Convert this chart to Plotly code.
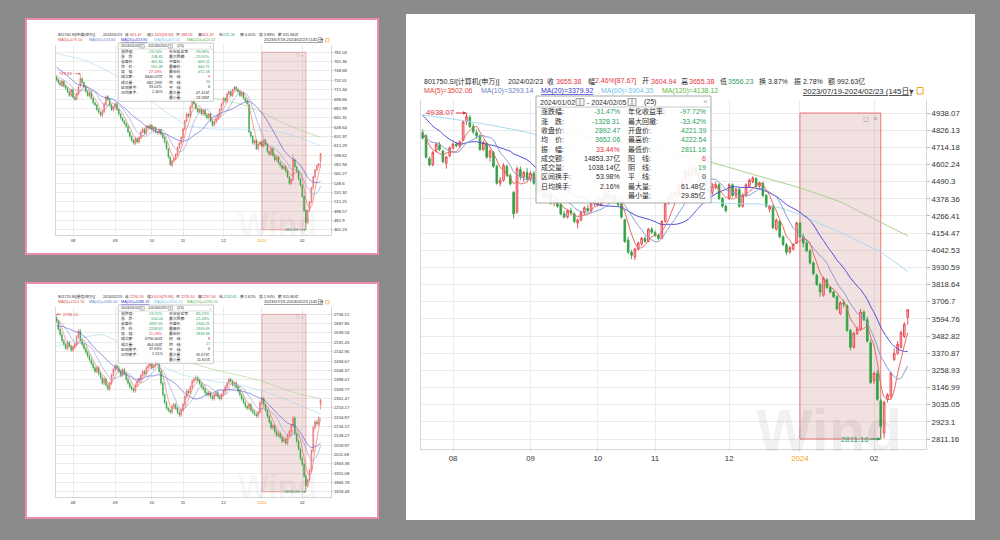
import plotly.graph_objects as go
import pandas as pd

W, H = 1000, 540
FONT = "Liberation Sans, Noto Sans CJK SC, sans-serif"
DARK = "#2b2b2b"
UP_LINE = "#e8414b"
UP_FILL = "#f7c3c6"
DN_COLOR = "#35a244"
TXT_RED = "#e5343f"
TXT_GREEN = "#2c9f63"
MA_COLORS = ["#e0695d", "#8797cf", "#4848d8", "#a9d9f0", "#a5d28c"]
MA_TEXT_COLORS = ["#e0483c", "#6c7fc4", "#3333cc", "#74c3ea", "#5cb845"]

month_tick_idx = [9, 32, 52, 69, 91, 112, 134]
month_tick_text = ["08", "09", "10", "11", "12", "2024", "02"]
range_start_idx, range_end_idx = 112, 136

# ------------------------------------------------------------------ main: 801750.SI
main_open = [
    4810, 4790, 4640, 4600, 4690, 4730, 4690, 4610, 4660, 4710,
    4735, 4725, 4760, 4880, 4910, 4850, 4810, 4790, 4700, 4740,
    4650, 4680, 4590, 4480, 4500, 4590, 4530, 4420, 4290, 4570,
    4520, 4550, 4510, 4545, 4480, 4420, 4460, 4390, 4410, 4350,
    4370, 4340, 4280, 4260, 4300, 4280, 4220, 4240, 4290, 4315,
    4300, 4350, 4380, 4340, 4380, 4420, 4390, 4400, 4360, 4345,
    4240, 4110, 4030, 4000, 4050, 4085, 4120, 4100, 4180, 4160,
    4140, 4120, 4230, 4350, 4380, 4420, 4400, 4470, 4500, 4560,
    4530, 4580, 4540, 4500, 4520, 4460, 4420, 4450, 4470, 4380,
    4330, 4380, 4470, 4400, 4440, 4330, 4400, 4460, 4490, 4510,
    4460, 4480, 4400, 4310, 4330, 4180, 4230, 4130, 4080, 4030,
    4050, 4090, 4221.39, 4130, 4090, 4040, 3960, 3880, 3820, 3750,
    3850, 3800, 3770, 3740, 3630, 3700, 3680, 3520, 3410, 3500,
    3530, 3640, 3590, 3440, 3190, 3240, 3060, 2850, 3070, 3090,
    3330, 3370, 3410, 3480, 3604.94]
main_high = [
    4830, 4800, 4655, 4690, 4745, 4750, 4700, 4660, 4720, 4745,
    4750, 4760, 4890, 4938.07, 4925, 4870, 4830, 4800, 4760, 4750,
    4700, 4690, 4600, 4520, 4610, 4600, 4545, 4430, 4590, 4590,
    4560, 4580, 4560, 4560, 4490, 4470, 4470, 4420, 4420, 4380,
    4380, 4350, 4300, 4310, 4320, 4290, 4250, 4300, 4330, 4340,
    4360, 4380, 4400, 4390, 4430, 4430, 4410, 4410, 4370, 4355,
    4250, 4130, 4045, 4060, 4100, 4130, 4135, 4190, 4195, 4170,
    4150, 4240, 4360, 4400, 4430, 4440, 4480, 4510, 4570, 4580,
    4590, 4590, 4550, 4530, 4530, 4470, 4480, 4490, 4480, 4390,
    4340, 4480, 4480, 4450, 4450, 4410, 4480, 4510, 4525, 4520,
    4490, 4490, 4410, 4340, 4340, 4250, 4240, 4140, 4090, 4070,
    4090, 4230, 4222.54, 4150, 4110, 4050, 3970, 3890, 3830, 3870,
    3860, 3810, 3780, 3750, 3710, 3720, 3690, 3530, 3510, 3545,
    3660, 3650, 3610, 3460, 3250, 3260, 3075, 3060, 3110, 3250,
    3400, 3450, 3520, 3575, 3655.38]
main_low = [
    4765, 4640, 4590, 4590, 4680, 4690, 4610, 4575, 4650, 4700,
    4715, 4710, 4755, 4860, 4840, 4800, 4770, 4690, 4690, 4640,
    4620, 4580, 4470, 4460, 4490, 4520, 4465, 4250, 4280, 4500,
    4490, 4500, 4490, 4470, 4410, 4410, 4380, 4370, 4340, 4330,
    4320, 4270, 4250, 4250, 4270, 4220, 4185, 4230, 4270, 4290,
    4290, 4330, 4330, 4330, 4370, 4380, 4370, 4350, 4330, 4250,
    4090, 4020, 3985, 3978, 4040, 4070, 4090, 4095, 4150, 4130,
    4110, 4115, 4225, 4340, 4370, 4390, 4395, 4460, 4490, 4520,
    4520, 4530, 4490, 4490, 4450, 4410, 4400, 4440, 4370, 4320,
    4290, 4370, 4390, 4390, 4320, 4320, 4390, 4450, 4480, 4450,
    4440, 4390, 4320, 4290, 4180, 4170, 4120, 4070, 4010, 4020,
    4040, 4085, 4120, 4060, 4030, 3950, 3880, 3810, 3740, 3740,
    3790, 3760, 3730, 3650, 3620, 3670, 3510, 3390, 3400, 3490,
    3520, 3580, 3440, 3170, 3170, 3060, 2811.16, 2815, 3050, 3070,
    3320, 3360, 3400, 3470, 3556.23]
main_close = [
    4775, 4650, 4600, 4680, 4735, 4700, 4620, 4650, 4710, 4735,
    4725, 4750, 4880, 4915, 4850, 4815, 4790, 4700, 4745, 4650,
    4690, 4590, 4480, 4500, 4595, 4530, 4475, 4280, 4575, 4520,
    4550, 4510, 4545, 4480, 4420, 4460, 4390, 4410, 4350, 4370,
    4330, 4280, 4260, 4300, 4285, 4230, 4240, 4290, 4320, 4300,
    4350, 4370, 4340, 4380, 4420, 4390, 4400, 4360, 4340, 4260,
    4100, 4030, 4010, 4050, 4090, 4120, 4100, 4180, 4160, 4140,
    4120, 4230, 4350, 4380, 4420, 4400, 4470, 4500, 4560, 4530,
    4580, 4540, 4500, 4520, 4460, 4420, 4460, 4470, 4380, 4330,
    4300, 4470, 4400, 4440, 4330, 4400, 4470, 4500, 4515, 4460,
    4480, 4400, 4330, 4330, 4190, 4240, 4130, 4080, 4030, 4060,
    4080, 4220.78, 4130, 4090, 4040, 3960, 3890, 3820, 3770, 3860,
    3800, 3770, 3740, 3660, 3700, 3690, 3520, 3410, 3500, 3530,
    3640, 3590, 3450, 3180, 3240, 3070, 2892.47, 3050, 3100, 3240,
    3370, 3430, 3505, 3560, 3655.38]
main_pre_close = [5120, 5080, 5150, 5060, 5010, 5040, 4990, 5030, 4980, 4970,
                  4900, 4830, 4780, 4760, 4770, 4790, 4820, 4830, 4784]
main_ma60_idx = [0, 10, 20, 33, 45, 55, 65, 75, 86, 95, 100, 106, 112, 118, 124, 130, 136, 140, 144]
main_ma60 = [4925, 4895, 4860, 4800, 4700, 4590, 4480, 4410, 4355, 4345, 4345, 4320, 4275,
             4215, 4160, 4095, 4030, 3970, 3904.35]
main_ma120_idx = [34, 45, 55, 65, 75, 86, 93, 100, 106, 112, 118, 124, 130, 136, 140, 144]
main_ma120 = [4850, 4800, 4760, 4720, 4670, 4615, 4570, 4525, 4488, 4450, 4405, 4358, 4292,
              4226, 4180, 4138.12]
main_yticks = ["4938.07", "4826.13", "4714.18", "4602.24", "4490.3", "4378.36", "4266.41",
               "4154.47", "4042.53", "3930.59", "3818.64", "3706.7", "3594.76", "3482.82",
               "3370.87", "3258.93", "3146.99", "3035.05", "2923.1", "2811.16"]
main_header = ["801750.SI[计算机(申万)]", "2024/02/23", "3655.38", "2.46%[87.67]", "3604.94",
               "3655.38", "3556.23", "3.87%", "2.78%", "992.63亿"]
main_ma_text = ["3502.06", "3293.14", "3379.92", "3904.35", "4138.12"]
main_tip_left = ["-31.47%", "-1328.31", "2892.47", "3652.06", "33.44%", "14853.37亿",
                 "1038.14亿", "53.98%", "2.16%"]
main_tip_right = ["-97.72%", "-33.42%", "4221.39", "4222.54", "2811.16", "6", "19", "0",
                  "61.48亿", "29.85亿"]

# ------------------------------------------------------------------ small chart 1 (top-left)
c1_open = [
    738, 733, 728, 722, 730, 722, 718, 712, 705, 715,
    702, 698, 708, 722, 735, 728, 720, 712, 704, 710,
    700, 692, 688, 680, 675, 669, 676, 690, 703, 698,
    688, 679, 684, 690, 680, 672, 665, 660, 655, 650,
    640, 632, 625, 619, 628, 622, 630, 640, 645, 638,
    650, 647, 652, 645, 648, 640, 638, 644, 636, 630,
    622, 610, 595, 580, 588, 592, 600, 612, 620, 630,
    645, 660, 672, 668, 685, 700, 690, 682, 676, 680,
    672, 678, 670, 665, 672, 660, 652, 658, 664, 670,
    680, 690, 700, 695, 708, 712, 705, 715, 720, 716,
    712, 705, 710, 700, 695, 688, 640, 632, 620, 625,
    610, 618, 622, 615, 625, 618, 605, 600, 610, 598,
    590, 595, 585, 580, 575, 578, 570, 560, 548, 555,
    590, 578, 570, 556, 545, 525, 500, 478, 500, 515,
    540, 560, 572, 580, 588.05]
c1_high = [
    741, 735, 730, 733, 732, 724, 720, 714, 717, 718,
    704, 711, 723, 743.84, 738, 730, 722, 714, 712, 713,
    702, 694, 690, 682, 677, 679, 693, 705, 706, 700,
    690, 687, 693, 693, 682, 674, 667, 662, 657, 652,
    642, 634, 627, 631, 630, 633, 643, 648, 647, 652,
    652, 655, 654, 650, 650, 642, 646, 646, 638, 632,
    624, 612, 597, 590, 594, 602, 614, 622, 632, 647,
    662, 674, 674, 687, 702, 702, 692, 684, 682, 682,
    680, 680, 672, 674, 674, 662, 660, 666, 672, 682,
    692, 702, 702, 710, 714, 714, 717, 722, 722, 718,
    714, 712, 712, 702, 697, 690, 642, 634, 627, 627,
    620, 624, 624, 627, 627, 620, 607, 612, 612, 600,
    597, 597, 587, 582, 580, 580, 572, 562, 557, 600,
    592, 580, 572, 558, 547, 527, 502, 502, 517, 542,
    562, 574, 582, 585, 601.47]
c1_low = [
    730, 725, 721, 720, 719, 715, 709, 702, 702, 699,
    695, 696, 705, 719, 725, 717, 709, 702, 701, 697,
    689, 685, 677, 672, 667, 666, 673, 687, 695, 685,
    677, 676, 681, 677, 669, 662, 657, 652, 647, 637,
    629, 622, 617, 616, 619, 619, 627, 637, 635, 635,
    645, 644, 642, 637, 637, 635, 635, 633, 627, 619,
    607, 592, 579, 577, 585, 589, 597, 609, 617, 627,
    642, 657, 665, 665, 682, 687, 679, 673, 673, 669,
    669, 667, 662, 662, 657, 649, 649, 655, 661, 667,
    677, 687, 692, 692, 705, 702, 702, 712, 713, 709,
    702, 702, 697, 692, 687, 637, 629, 617, 617, 607,
    607, 615, 612, 612, 615, 602, 597, 597, 595, 587,
    587, 582, 577, 572, 572, 567, 557, 545, 545, 552,
    575, 567, 553, 542, 522, 497, 465.23, 475, 497, 512,
    537, 557, 569, 576, 576.26]
c1_close = [
    733, 728, 724, 730, 722, 718, 712, 705, 715, 702,
    698, 708, 720, 735, 728, 720, 712, 705, 710, 700,
    692, 688, 680, 675, 670, 676, 690, 702, 698, 688,
    680, 684, 690, 680, 672, 665, 660, 655, 650, 640,
    632, 625, 620, 628, 622, 630, 640, 645, 638, 650,
    648, 652, 645, 648, 640, 638, 644, 636, 630, 622,
    610, 595, 582, 588, 592, 600, 612, 620, 630, 645,
    660, 672, 668, 685, 700, 690, 682, 676, 680, 672,
    678, 670, 665, 672, 660, 652, 658, 664, 670, 680,
    690, 700, 695, 708, 712, 705, 715, 720, 716, 712,
    705, 710, 700, 695, 690, 640, 632, 620, 625, 610,
    618, 622, 615, 625, 618, 605, 600, 610, 598, 590,
    595, 585, 580, 575, 578, 570, 560, 548, 555, 590,
    578, 570, 556, 545, 525, 500, 478, 500, 515, 540,
    560, 572, 580, 583, 601.47]
c1_pre_close = [775, 780, 772, 770, 768, 776, 770, 762, 765, 760,
                752, 748, 745, 742, 740, 738, 735, 737, 736]
c1_ma60_idx = [0, 15, 30, 45, 60, 71, 85, 100, 112, 124, 134, 144]
c1_ma60 = [780, 768, 745, 712, 675, 652, 645, 645, 643, 638, 628, 615]
c1_ma120_idx = [34, 50, 70, 86, 100, 112, 124, 134, 144]
c1_ma120 = [740, 725, 710, 700, 690, 675, 655, 642, 630]
c1_yticks = ["782.03", "765.36", "748.68", "732.01", "715.34", "698.66", "681.99", "665.31",
             "648.64", "631.97", "615.29", "598.62", "581.94", "565.27", "548.6", "531.92",
             "515.25", "498.57", "481.9", "465.23"]
c1_header = ["801760.SI[传媒(申万)]", "2024/02/23", "601.47", "3.14%[18.30]", "588.05",
             "601.47", "576.26", "4.05%", "3.88%", "415.84亿"]
c1_ma_text = ["579.14", "543.84", "553.90", "617.05", "623.32"]
c1_tip_left = ["-23.74%", "-148.65", "465.84", "555.48", "27.18%", "8440.07亿", "682.29亿",
               "93.02%", "2.40%"]
c1_tip_right = ["-93.36%", "-25.92%", "609.22", "643.75", "472.58", "9", "16", "0",
                "47.41亿", "23.58亿"]

# ------------------------------------------------------------------ small chart 2 (bottom-left)
c2_open = [
    2720, 2700, 2660, 2630, 2600, 2580, 2560, 2590, 2570, 2550,
    2565, 2580, 2620, 2650, 2600, 2580, 2560, 2540, 2520, 2500,
    2480, 2460, 2440, 2460, 2430, 2410, 2380, 2400, 2370, 2350,
    2380, 2420, 2450, 2470, 2460, 2440, 2420, 2450, 2430, 2400,
    2380, 2360, 2350, 2340, 2370, 2390, 2400, 2420, 2440, 2430,
    2460, 2470, 2480, 2460, 2470, 2490, 2480, 2440, 2380, 2320,
    2280, 2250, 2240, 2230, 2260, 2270, 2250, 2230, 2215, 2240,
    2270, 2310, 2340, 2330, 2360, 2390, 2400, 2410, 2395, 2380,
    2360, 2350, 2330, 2320, 2330, 2310, 2300, 2320, 2330, 2310,
    2300, 2320, 2340, 2360, 2380, 2400, 2390, 2370, 2380, 2360,
    2340, 2320, 2300, 2280, 2260, 2250, 2270, 2240, 2230, 2220,
    2210, 2230, 2280, 2300, 2270, 2240, 2210, 2180, 2150, 2160,
    2130, 2110, 2120, 2100, 2080, 2090, 2070, 2110, 2130, 2160,
    2200, 2120, 2080, 2040, 1990, 1960, 1900, 1850, 1880, 1930,
    2030, 2150, 2180, 2170, 2270.1]
c2_high = [
    2736.15, 2710, 2670, 2640, 2610, 2590, 2600, 2600, 2580, 2575,
    2590, 2630, 2660, 2660, 2610, 2590, 2570, 2550, 2530, 2510,
    2490, 2470, 2470, 2470, 2440, 2420, 2410, 2410, 2380, 2390,
    2430, 2460, 2480, 2480, 2470, 2450, 2460, 2460, 2440, 2410,
    2390, 2370, 2360, 2380, 2400, 2410, 2430, 2450, 2450, 2470,
    2480, 2490, 2490, 2480, 2500, 2500, 2490, 2450, 2390, 2330,
    2290, 2260, 2250, 2270, 2280, 2280, 2260, 2240, 2250, 2280,
    2320, 2350, 2350, 2370, 2400, 2410, 2420, 2420, 2405, 2390,
    2370, 2360, 2340, 2340, 2340, 2320, 2330, 2340, 2340, 2320,
    2330, 2350, 2370, 2390, 2410, 2410, 2400, 2390, 2390, 2370,
    2350, 2330, 2310, 2290, 2270, 2280, 2280, 2250, 2240, 2230,
    2240, 2290, 2310, 2310, 2280, 2250, 2220, 2190, 2170, 2170,
    2140, 2130, 2130, 2110, 2100, 2100, 2120, 2140, 2170, 2210,
    2210, 2130, 2090, 2050, 2000, 1970, 1910, 1890, 1940, 2040,
    2160, 2190, 2190, 2210, 2297]
c2_low = [
    2690, 2650, 2620, 2590, 2570, 2550, 2550, 2560, 2540, 2540,
    2555, 2570, 2610, 2590, 2570, 2550, 2530, 2510, 2490, 2470,
    2450, 2430, 2430, 2420, 2400, 2370, 2370, 2360, 2340, 2340,
    2370, 2410, 2440, 2450, 2430, 2410, 2410, 2420, 2390, 2370,
    2350, 2340, 2330, 2330, 2360, 2380, 2390, 2410, 2420, 2420,
    2450, 2460, 2450, 2450, 2460, 2470, 2430, 2370, 2310, 2270,
    2240, 2230, 2220, 2220, 2250, 2240, 2220, 2205, 2205, 2230,
    2260, 2300, 2320, 2320, 2350, 2380, 2390, 2385, 2370, 2350,
    2340, 2320, 2310, 2310, 2300, 2290, 2290, 2310, 2300, 2290,
    2290, 2310, 2330, 2350, 2370, 2380, 2360, 2360, 2350, 2330,
    2310, 2290, 2270, 2250, 2240, 2240, 2230, 2220, 2210, 2200,
    2200, 2220, 2270, 2260, 2230, 2200, 2170, 2140, 2140, 2120,
    2100, 2100, 2090, 2070, 2070, 2060, 2060, 2100, 2120, 2150,
    2110, 2070, 2030, 1980, 1950, 1890, 1818.48, 1840, 1870, 1920,
    2020, 2140, 2160, 2160, 2243.61]
c2_close = [
    2700, 2660, 2630, 2600, 2580, 2560, 2590, 2570, 2550, 2565,
    2580, 2620, 2650, 2600, 2580, 2560, 2540, 2520, 2500, 2480,
    2460, 2440, 2460, 2430, 2410, 2380, 2400, 2370, 2350, 2380,
    2420, 2450, 2470, 2460, 2440, 2420, 2450, 2430, 2400, 2380,
    2360, 2350, 2340, 2370, 2390, 2400, 2420, 2440, 2430, 2460,
    2470, 2480, 2460, 2470, 2490, 2480, 2440, 2380, 2320, 2280,
    2250, 2240, 2230, 2260, 2270, 2250, 2230, 2215, 2240, 2270,
    2310, 2340, 2330, 2360, 2390, 2400, 2410, 2395, 2380, 2360,
    2350, 2330, 2320, 2330, 2310, 2300, 2320, 2330, 2310, 2300,
    2320, 2340, 2360, 2380, 2400, 2390, 2370, 2380, 2360, 2340,
    2320, 2300, 2280, 2260, 2250, 2270, 2240, 2230, 2220, 2210,
    2230, 2280, 2300, 2270, 2240, 2210, 2180, 2150, 2160, 2130,
    2110, 2120, 2100, 2080, 2090, 2070, 2110, 2130, 2160, 2200,
    2120, 2080, 2040, 1990, 1960, 1900, 1850, 1880, 1930, 2030,
    2150, 2180, 2170, 2200, 2294.19]
c2_pre_close = [2640, 2650, 2630, 2620, 2660, 2650, 2640, 2630, 2650, 2670,
                2680, 2690, 2700, 2710, 2720, 2700, 2710, 2730, 2720]
c2_ma60_idx = [0, 12, 25, 40, 55, 70, 86, 100, 112, 124, 134, 144]
c2_ma60 = [2568, 2610, 2630, 2560, 2480, 2420, 2390, 2370, 2340, 2300, 2260, 2220]
c2_ma120_idx = [34, 60, 86, 100, 112, 124, 134, 144]
c2_ma120 = [2560, 2520, 2450, 2420, 2390, 2350, 2320, 2300]
c2_yticks = ["2736.15", "2687.86", "2639.56", "2591.26", "2542.96", "2494.67", "2446.37",
             "2398.07", "2349.77", "2301.47", "2253.17", "2204.87", "2156.57", "2108.27",
             "2059.97", "2011.68", "1963.38", "1915.08", "1866.78", "1818.48"]
c2_header = ["801770.SI[通信(申万)]", "2024/02/23", "2294.19", "3.61%[79.96]", "2270.10",
             "2297.00", "2243.61", "2.62%", "1.94%", "315.80亿"]
c2_ma_text = ["2212.76", "2085.40", "2086.19", "2202.13", "2293.20"]
c2_tip_left = ["-19.21%", "-504.04", "1867.65", "2108.65", "21.28%", "6790.60亿", "464.04亿",
               "37.66%", "1.51%"]
c2_tip_right = ["-85.15%", "-21.28%", "2300.21", "2309.69", "1818.48", "8", "17", "0",
                "35.67亿", "11.61亿"]

range_text = "2023/07/19-2024/02/23 (145日)"
tip_head = ["2024/01/02", "- 2024/02/05", "(25)"]
tip_left_labels = ["涨跌幅:", "涨\u3000跌:", "收盘价:", "均\u3000价:", "振\u3000幅:", "成交额:",
                   "成交量:", "区间换手:", "日均换手:"]
tip_right_labels = ["年化收益率:", "最大回撤:", "开盘价:", "最高价:", "最低价:", "阳\u3000线:",
                    "阴\u3000线:", "平\u3000线:", "最大量:", "最小量:"]
tip_left_colors = [TXT_GREEN, TXT_GREEN, TXT_GREEN, TXT_GREEN, TXT_RED, DARK, DARK, DARK, DARK]
tip_right_colors = [TXT_GREEN, TXT_GREEN, TXT_GREEN, TXT_GREEN, TXT_GREEN, TXT_RED, TXT_GREEN,
                    DARK, DARK, DARK]

# ------------------------------------------------------------------ geometry (main-chart pixels)
IDX0_X, IDX_DX = 422.7, 3.368
TOP_TICK_Y, TICK_DY = 113.0, 17.16
PLOT_L, PLOT_R, PLOT_T, PLOT_B = 421, 926, 100, 449

fig = go.Figure()


def paper(X, Y):
    return X / W, 1 - Y / H


def add_text(X, Y, text, size, color=DARK, xanchor="left", yanchor="middle"):
    px, py = paper(X, Y)
    fig.add_annotation(x=px, y=py, xref="paper", yref="paper", text=text, showarrow=False,
                       xanchor=xanchor, yanchor=yanchor, borderpad=0,
                       font=dict(size=size, color=color, family=FONT))


def add_rect(X0, Y0, X1, Y1, fill, line="rgba(0,0,0,0)", width=0, layer="below"):
    x0, y0 = paper(X0, Y0)
    x1, y1 = paper(X1, Y1)
    fig.add_shape(type="rect", xref="paper", yref="paper", x0=x0, y0=y1, x1=x1, y1=y0,
                  fillcolor=fill, line=dict(color=line, width=width), layer=layer)


def add_line(X0, Y0, X1, Y1, color, width=1, layer="above"):
    x0, y0 = paper(X0, Y0)
    x1, y1 = paper(X1, Y1)
    fig.add_shape(type="line", xref="paper", yref="paper", x0=x0, y0=y0, x1=x1, y1=y1,
                  line=dict(color=color, width=width), layer=layer)


# panels
fig.add_shape(type="rect", xref="paper", yref="paper", x0=0, y0=0, x1=1, y1=1,
              fillcolor="#8b8b8b", line=dict(width=0), layer="below")
add_rect(406, 14, 975, 520, "#ffffff", layer="below")
add_rect(26, 19, 378, 254, "#ffffff", "#ec8db0", 2, layer="below")
add_rect(26, 283, 378, 518, "#ffffff", "#ec8db0", 2, layer="below")

charts = [
    dict(k=1, s=1.0, ox=422.7, oy=113.0, o=main_open, h=main_high, l=main_low, c=main_close,
         pre=main_pre_close, ma60=(main_ma60_idx, main_ma60), ma120=(main_ma120_idx, main_ma120),
         yt=main_yticks, header=main_header, ma_text=main_ma_text, tl=main_tip_left,
         tr=main_tip_right, hi_idx=13, hi_dir=-1, lo_idx=136),
    dict(k=2, s=0.5445, ox=56.5, oy=52.3, o=c1_open, h=c1_high, l=c1_low, c=c1_close,
         pre=c1_pre_close, ma60=(c1_ma60_idx, c1_ma60), ma120=(c1_ma120_idx, c1_ma120),
         yt=c1_yticks, header=c1_header, ma_text=c1_ma_text, tl=c1_tip_left, tr=c1_tip_right,
         hi_idx=13, hi_dir=-1, lo_idx=136),
    dict(k=3, s=0.5445, ox=56.5, oy=314.3, o=c2_open, h=c2_high, l=c2_low, c=c2_close,
         pre=c2_pre_close, ma60=(c2_ma60_idx, c2_ma60), ma120=(c2_ma120_idx, c2_ma120),
         yt=c2_yticks, header=c2_header, ma_text=c2_ma_text, tl=c2_tip_left, tr=c2_tip_right,
         hi_idx=0, hi_dir=1, lo_idx=136),
]

header_x = [423, 507, 555, 594, 650, 688, 727, 758, 793, 827]
header_lbl_x = [546, 587, 641, 680, 719]
header_lbl = ["收", "幅", "开", "高", "低"]
header_colors = [DARK, DARK, TXT_RED, TXT_RED, TXT_RED, TXT_RED, TXT_GREEN, DARK, DARK, DARK]
header_prefix = ["", "", "", "", "", "", "", "换 ", "振 ", "额 "]
ma_x = [423, 480, 540, 600, 661]
ma_names = ["MA(5)", "MA(10)", "MA(20)", "MA(60)", "MA(120)"]


def sma(pre, close, n):
    s = pd.Series(list(pre) + list(close), dtype=float)
    return s.rolling(n).mean().iloc[len(pre):].tolist()


for ch in charts:
    s, ox, oy, k = ch["s"], ch["ox"], ch["oy"], ch["k"]

    def tx(X, ox=ox, s=s):
        return ox + (X - IDX0_X) * s

    def ty(Y, oy=oy, s=s):
        return oy + (Y - TOP_TICK_Y) * s

    xn = "x" if k == 1 else f"x{k}"
    yn = "y" if k == 1 else f"y{k}"
    xl = "xaxis" if k == 1 else f"xaxis{k}"
    yl = "yaxis" if k == 1 else f"yaxis{k}"
    n = len(ch["c"])
    idx = list(range(n))
    yt = [float(t) for t in ch["yt"]]
    T, B = yt[0], yt[-1]
    step = (T - B) / 19
    y_lo = B - (PLOT_B - (TOP_TICK_Y + 19 * TICK_DY)) / TICK_DY * step
    y_hi = T + (TOP_TICK_Y - PLOT_T) / TICK_DY * step

    # MA lines
    ma5 = sma(ch["pre"], ch["c"], 5)
    ma10 = sma(ch["pre"], ch["c"], 10)
    ma20 = sma(ch["pre"], ch["c"], 20)
    lw = max(1.0 * s, 0.6)
    for xs, vals, colr in [(ch["ma120"][0], ch["ma120"][1], MA_COLORS[4]),
                           (ch["ma60"][0], ch["ma60"][1], MA_COLORS[3]),
                           (idx, ma20, MA_COLORS[2]), (idx, ma10, MA_COLORS[1]),
                           (idx, ma5, MA_COLORS[0])]:
        fig.add_trace(go.Scatter(x=xs, y=vals, mode="lines", xaxis=xn, yaxis=yn,
                                 line=dict(color=colr, width=lw, shape="spline", smoothing=0.6),
                                 hoverinfo="skip", showlegend=False))

    fig.add_trace(go.Candlestick(
        x=idx, open=ch["o"], high=ch["h"], low=ch["l"], close=ch["c"], xaxis=xn, yaxis=yn,
        increasing=dict(line=dict(color=UP_LINE, width=max(0.9 * s, 0.5)), fillcolor=UP_FILL),
        decreasing=dict(line=dict(color=DN_COLOR, width=max(0.9 * s, 0.5)), fillcolor=DN_COLOR),
        whiskerwidth=0, hoverinfo="skip", showlegend=False))

    tick_font = dict(size=7.8 * s, color="#333333", family=FONT)
    ticktext = [f'<span style="color:#f0a020">{t}</span>' if t == "2024" else t
                for t in month_tick_text]
    fig.update_layout({
        xl: dict(domain=[tx(PLOT_L) / W, tx(PLOT_R) / W], anchor=yn,
                 range=[(PLOT_L - IDX0_X) / IDX_DX, (PLOT_R - IDX0_X) / IDX_DX],
                 tickvals=month_tick_idx, ticktext=ticktext, tickfont=tick_font,
                 showgrid=True, gridcolor="#ebebeb", gridwidth=1, zeroline=False,
                 showline=True, linecolor="#d6d6d6", linewidth=1, ticks="outside",
                 ticklen=2 * s, tickcolor="#e0e0e0", rangeslider=dict(visible=False),
                 fixedrange=True),
        yl: dict(domain=[1 - ty(PLOT_B) / H, 1 - ty(PLOT_T) / H], anchor=xn, side="right",
                 range=[y_lo, y_hi], tickvals=yt, ticktext=ch["yt"], tickfont=tick_font,
                 showgrid=True, gridcolor="#ebebeb", gridwidth=1, zeroline=False,
                 showline=True, mirror=True, linecolor="#d6d6d6", linewidth=1,
                 ticks="outside", ticklen=3 * s, tickcolor="#bbbbbb", fixedrange=True),
    })

    # selected range shading
    fig.add_shape(type="rect", xref=xn, yref=yn, x0=range_start_idx, x1=range_end_idx,
                  y0=B, y1=T, fillcolor="rgba(196,120,120,0.22)",
                  line=dict(color="rgba(232,100,100,0.85)", width=1 * s), layer="between")
    add_text(tx(866), ty(118), "◻", 7 * s, "#999999", "center")
    add_text(tx(875), ty(118), "×", 8 * s, "#999999", "center")

    # high / low markers
    hi_i = ch["hi_idx"]
    fig.add_annotation(x=hi_i, y=ch["h"][hi_i], xref=xn, yref=yn,
                       text=f'{ch["h"][hi_i]:.2f}', showarrow=True, arrowhead=2,
                       arrowsize=0.7, arrowwidth=1 * s, arrowcolor=TXT_RED,
                       ax=26 * s * ch["hi_dir"], ay=0,
                       font=dict(size=7.8 * s, color=TXT_RED, family=FONT))
    lo_i = ch["lo_idx"]
    fig.add_annotation(x=lo_i, y=ch["l"][lo_i], xref=xn, yref=yn,
                       text=f'{ch["l"][lo_i]:.2f}', showarrow=True, arrowhead=2,
                       arrowsize=0.7, arrowwidth=1 * s, arrowcolor=TXT_GREEN, ax=-26 * s, ay=0,
                       font=dict(size=7.8 * s, color=TXT_GREEN, family=FONT))

    # watermark
    add_text(tx(829), ty(430), "<b>Wind</b>", 60 * s, "rgba(0,0,0,0.055)", "center")

    # header row 1
    fs = 7.0 * s
    for X, txt, colr, pre in zip(header_x, ch["header"], header_colors, header_prefix):
        add_text(tx(X), ty(81), pre + txt, fs, colr)
    for X, txt in zip(header_lbl_x, header_lbl):
        add_text(tx(X), ty(81), txt, fs, DARK)
    # header row 2
    for i, (X, nm, v) in enumerate(zip(ma_x, ma_names, ch["ma_text"])):
        t = f"{nm}={v}"
        if i == 2:
            t = f"<u>{t}</u>"
        add_text(tx(X), ty(91), t, fs, MA_TEXT_COLORS[i])
    add_text(tx(802), ty(91), f"<u>{range_text}</u>", 7.8 * s, DARK)
    add_text(tx(911), ty(91), "▼", fs, "#444444", "center")
    add_rect(tx(917), ty(87.5), tx(923), ty(94), "rgba(0,0,0,0)", "#f0a020", max(1 * s, 0.6),
             layer="above")

    # tooltip box
    add_rect(tx(536), ty(96), tx(711), ty(203), "rgba(255,255,255,0.9)", "#a8a8a8",
             max(1 * s, 0.6), layer="above")
    fs_t = 7.0 * s
    add_text(tx(539), ty(102), tip_head[0], fs_t, DARK)
    add_rect(tx(576), ty(98.5), tx(584), ty(105.5), "#f4f4f4", "#888888", max(0.8 * s, 0.5), "above")
    add_line(tx(580), ty(98.5), tx(580), ty(105.5), "#888888", max(0.8 * s, 0.5))
    add_text(tx(586), ty(102), tip_head[1], fs_t, DARK)
    add_rect(tx(628), ty(98.5), tx(636), ty(105.5), "#f4f4f4", "#888888", max(0.8 * s, 0.5), "above")
    add_line(tx(632), ty(98.5), tx(632), ty(105.5), "#888888", max(0.8 * s, 0.5))
    add_text(tx(643), ty(102), tip_head[2], fs_t, DARK)
    add_text(tx(705), ty(101.5), "×", 8 * s, "#aaaaaa", "center")
    add_line(tx(537), ty(107), tx(710), ty(107), "#c8c8c8", max(1 * s, 0.5))
    for r, (lab, val, colr) in enumerate(zip(tip_left_labels, ch["tl"], tip_left_colors)):
        Y = 111.8 + 9.3 * r
        add_text(tx(540), ty(Y), lab, fs_t, DARK)
        add_text(tx(621), ty(Y), val, fs_t, colr, "right")
    for r, (lab, val, colr) in enumerate(zip(tip_right_labels, ch["tr"], tip_right_colors)):
        Y = 111.8 + 9.3 * r
        add_text(tx(627), ty(Y), lab, fs_t, DARK)
        add_text(tx(707), ty(Y), val, fs_t, colr, "right")

fig.update_layout(width=W, height=H, margin=dict(l=0, r=0, t=0, b=0),
                  paper_bgcolor="#8b8b8b", plot_bgcolor="rgba(0,0,0,0)",
                  showlegend=False, hovermode=False, font=dict(family=FONT))
fig.write_html("out.html")
